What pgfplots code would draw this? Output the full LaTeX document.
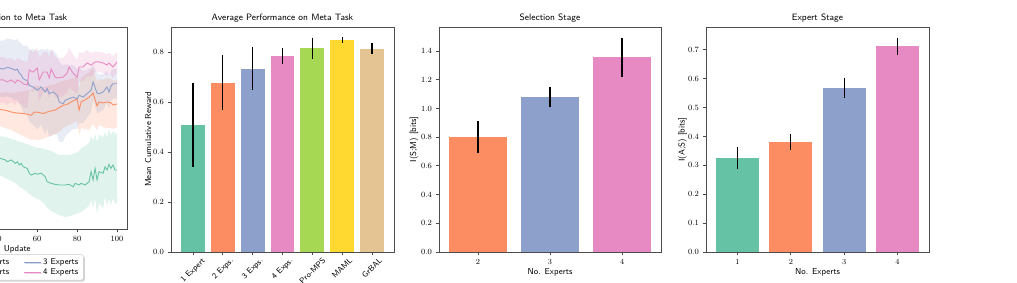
\documentclass[border=0pt]{standalone}
\usepackage{graphicx}
\usepackage{pgfplots}
\usepackage{pgfplotstable}
\pgfplotsset{compat=1.18}
\usepgfplotslibrary{fillbetween}
\usetikzlibrary{shadows}
\definecolor{cA}{HTML}{66C2A5}
\definecolor{cB}{HTML}{FC8D62}
\definecolor{cC}{HTML}{8DA0CB}
\definecolor{cD}{HTML}{E78AC3}
\definecolor{cE}{HTML}{A6D854}
\definecolor{cF}{HTML}{FFD92F}
\definecolor{cG}{HTML}{E5C494}
\definecolor{spine}{gray}{0.3}

\pgfplotstableread{
x m lo hi
38 0.356 0.277 0.465
41 0.351 0.267 0.460
44 0.342 0.252 0.455
45 0.333 0.248 0.453
47 0.342 0.238 0.446
49 0.325 0.228 0.441
50 0.333 0.218 0.436
51 0.317 0.208 0.432
52 0.325 0.203 0.431
53 0.308 0.198 0.426
55 0.300 0.183 0.421
56 0.276 0.173 0.416
57 0.267 0.168 0.411
59 0.276 0.153 0.406
60 0.271 0.149 0.401
62 0.276 0.139 0.400
64 0.259 0.119 0.396
65 0.234 0.104 0.391
67 0.226 0.089 0.386
69 0.221 0.079 0.376
71 0.218 0.069 0.366
74 0.218 0.059 0.366
76 0.221 0.064 0.366
78 0.209 0.069 0.371
79 0.226 0.074 0.375
81 0.218 0.079 0.386
82 0.226 0.084 0.400
84 0.218 0.099 0.411
86 0.234 0.114 0.426
87 0.284 0.144 0.460
88 0.243 0.104 0.436
89 0.300 0.153 0.470
90 0.243 0.074 0.431
91 0.284 0.129 0.465
93 0.276 0.099 0.455
94 0.308 0.163 0.480
95 0.292 0.114 0.455
96 0.320 0.149 0.493
97 0.300 0.119 0.465
98 0.317 0.153 0.485
99 0.292 0.124 0.470
100 0.292 0.129 0.475
}\tabA

\pgfplotstableread{
x m lo hi
38 0.594 0.515 0.673
41 0.592 0.510 0.673
44 0.588 0.500 0.678
47 0.579 0.490 0.673
50 0.574 0.475 0.678
53 0.572 0.460 0.683
55 0.568 0.450 0.688
57 0.563 0.441 0.688
58 0.574 0.446 0.698
59 0.579 0.441 0.708
61 0.577 0.441 0.708
63 0.571 0.446 0.703
65 0.579 0.455 0.708
67 0.584 0.460 0.713
69 0.589 0.470 0.718
71 0.601 0.480 0.728
73 0.612 0.500 0.733
75 0.617 0.510 0.738
77 0.629 0.520 0.743
79 0.639 0.530 0.752
80 0.644 0.535 0.757
81 0.589 0.465 0.698
82 0.629 0.500 0.748
84 0.639 0.495 0.762
86 0.653 0.490 0.777
88 0.673 0.520 0.797
90 0.609 0.490 0.728
91 0.629 0.515 0.743
93 0.624 0.505 0.738
95 0.629 0.500 0.748
97 0.624 0.500 0.743
98 0.614 0.495 0.733
100 0.619 0.505 0.738
}\tabB

\pgfplotstableread{
x m lo hi
38 0.797 0.658 0.936
41 0.795 0.656 0.934
43 0.792 0.653 0.931
45 0.800 0.656 0.944
47 0.795 0.651 0.939
49 0.786 0.637 0.935
50 0.792 0.643 0.941
51 0.772 0.619 0.925
52 0.762 0.604 0.920
53 0.744 0.581 0.907
54 0.738 0.570 0.906
55 0.736 0.563 0.909
56 0.711 0.533 0.889
58 0.703 0.515 0.891
60 0.687 0.494 0.880
62 0.703 0.515 0.891
64 0.678 0.470 0.886
65 0.695 0.497 0.893
66 0.670 0.457 0.883
68 0.678 0.470 0.886
70 0.663 0.465 0.861
71 0.629 0.431 0.827
73 0.620 0.432 0.808
74 0.637 0.459 0.815
76 0.645 0.477 0.813
78 0.653 0.495 0.811
80 0.645 0.496 0.794
81 0.662 0.523 0.801
83 0.653 0.524 0.782
85 0.670 0.551 0.789
87 0.687 0.578 0.796
88 0.728 0.639 0.817
90 0.673 0.574 0.772
91 0.670 0.576 0.764
93 0.678 0.589 0.767
95 0.703 0.624 0.782
96 0.678 0.594 0.762
97 0.708 0.634 0.782
98 0.719 0.645 0.793
100 0.719 0.645 0.793
}\tabC

\pgfplotstableread{
x m lo hi
38 0.738 0.624 0.852
41 0.738 0.624 0.852
43 0.738 0.624 0.852
45 0.728 0.614 0.842
47 0.738 0.629 0.847
49 0.723 0.614 0.832
50 0.738 0.629 0.847
52 0.728 0.619 0.837
53 0.718 0.604 0.832
55 0.713 0.599 0.827
56 0.787 0.688 0.886
58 0.777 0.678 0.876
60 0.797 0.698 0.896
61 0.738 0.629 0.847
63 0.777 0.678 0.876
65 0.777 0.678 0.876
66 0.748 0.644 0.852
67 0.792 0.693 0.891
69 0.752 0.653 0.851
70 0.748 0.649 0.847
73 0.752 0.658 0.846
75 0.772 0.673 0.871
76 0.802 0.703 0.901
78 0.772 0.683 0.861
80 0.752 0.668 0.836
81 0.802 0.728 0.876
83 0.802 0.733 0.871
85 0.822 0.758 0.886
87 0.812 0.753 0.871
89 0.827 0.777 0.877
91 0.827 0.777 0.877
93 0.822 0.772 0.872
95 0.812 0.758 0.866
96 0.822 0.772 0.872
98 0.802 0.748 0.856
100 0.827 0.777 0.877
}\tabD

\pgfplotsset{
  every axis title shift=0pt,
  base/.style={
    scale only axis, anchor=south west,
    axis line style={spine, line width=0.8pt},
    tick align=outside, tick pos=left, major tick length=3.5pt,
    tick style={spine, line width=0.8pt},
    tick label style={font=\fontsize{7.8}{9}\selectfont},
    label style={font=\sffamily\fontsize{8.6}{10}\selectfont},
    title style={font=\sffamily\fontsize{9.2}{11}\selectfont, at={(axis description cs:0.5,1)}, anchor=south, yshift=1.5pt},
  },
  bars/.style={
    base, ybar, bar width=0.8, bar shift=0pt, ymin=0, height=225pt,
    error bars/y dir=both, error bars/y explicit,
    error bars/error mark=none,
    error bars/error bar style={black, line width=1.2pt},
    yticklabel style={/pgf/number format/fixed, /pgf/number format/precision=1, /pgf/number format/fixed zerofill},
    xlabel style={at={(axis description cs:0.5,-0.089)}, anchor=center},
  },
}

\begin{document}
\begin{tikzpicture}[x=1pt,y=1pt]

% Panel 1
\begin{axis}[base, at={(-92.5pt,54pt)}, width=219.5pt, height=202pt,
  xmin=-5, xmax=105, ymin=0, ymax=1,
  xtick={0,20,40,60,80,100}, ytick={0,0.2,0.4,0.6,0.8,1.0},
  title={Adaptation to Meta Task},
  xlabel={Update},
  xlabel style={at={(axis description cs:0.5,-0.102)}, anchor=center},
  legend columns=2,
  legend cell align=left,
  legend style={at={(axis description cs:0.5,-0.126)}, anchor=north,
    font=\sffamily\fontsize{8.6}{10}\selectfont, draw=gray!40, fill=white,
    rounded corners=2pt, row sep=-1.5pt,
    drop shadow={opacity=0.35, shadow xshift=1.5pt, shadow yshift=-1.5pt},
    /tikz/every even column/.append style={column sep=12pt}},
]
\addplot[cA, line width=0.9pt, forget plot] table[x=x,y=m]{\tabA};
\addplot[name path=al, draw=none, forget plot] table[x=x,y=lo]{\tabA};
\addplot[name path=ah, draw=none, forget plot] table[x=x,y=hi]{\tabA};
\addplot[cA, fill opacity=0.2, draw=none, forget plot] fill between[of=al and ah];

\addplot[cB, line width=0.9pt, forget plot] table[x=x,y=m]{\tabB};
\addplot[name path=bl, draw=none, forget plot] table[x=x,y=lo]{\tabB};
\addplot[name path=bh, draw=none, forget plot] table[x=x,y=hi]{\tabB};
\addplot[cB, fill opacity=0.2, draw=none, forget plot] fill between[of=bl and bh];

\addplot[cC, line width=0.9pt, forget plot] table[x=x,y=m]{\tabC};
\addplot[name path=cl, draw=none, forget plot] table[x=x,y=lo]{\tabC};
\addplot[name path=ch, draw=none, forget plot] table[x=x,y=hi]{\tabC};
\addplot[cC, fill opacity=0.2, draw=none, forget plot] fill between[of=cl and ch];

\addplot[cD, line width=0.9pt, forget plot] table[x=x,y=m]{\tabD};
\addplot[name path=dl, draw=none, forget plot] table[x=x,y=lo]{\tabD};
\addplot[name path=dh, draw=none, forget plot] table[x=x,y=hi]{\tabD};
\addplot[cD, fill opacity=0.2, draw=none, forget plot] fill between[of=dl and dh];

\addlegendimage{cA, line width=0.9pt}\addlegendentry{1 Experts}
\addlegendimage{cC, line width=0.9pt}\addlegendentry{3 Experts}
\addlegendimage{cB, line width=0.9pt}\addlegendentry{2 Experts}
\addlegendimage{cD, line width=0.9pt}\addlegendentry{4 Experts}
\end{axis}

% Panel 2
\begin{axis}[bars, at={(171pt,31pt)}, width=223pt,
  xmin=-0.74, xmax=6.74, ymax=0.9,
  ytick={0,0.2,0.4,0.6,0.8},
  xtick={0,1,2,3,4,5,6},
  xticklabels={{\rotatebox{45}{1 Expert}},{\rotatebox{45}{2 Exps.}},{\rotatebox{45}{3 Exps.}},{\rotatebox{45}{4 Exps.}},{\rotatebox{45}{Pro-MPS}},{\rotatebox{45}{MAML}},{\rotatebox{45}{GrBAL}}},
  xticklabel style={anchor=north, inner sep=1.5pt, font=\sffamily\fontsize{8}{9}\selectfont},
  ylabel={Mean Cumulative Reward},
  ylabel style={at={(axis description cs:-0.103,0.5)}, anchor=center},
  title={Average Performance on Meta Task},
]
\addplot[fill=cA, draw=none] coordinates {(0,0.507) +- (0,0.168)};
\addplot[fill=cB, draw=none] coordinates {(1,0.677) +- (0,0.110)};
\addplot[fill=cC, draw=none] coordinates {(2,0.733) +- (0,0.086)};
\addplot[fill=cD, draw=none] coordinates {(3,0.785) +- (0,0.032)};
\addplot[fill=cE, draw=none] coordinates {(4,0.814) +- (0,0.043)};
\addplot[fill=cF, draw=none] coordinates {(5,0.847) +- (0,0.012)};
\addplot[fill=cG, draw=none] coordinates {(6,0.812) +- (0,0.022)};
\end{axis}

% Panel 3
\begin{axis}[bars, at={(439pt,31pt)}, width=222pt,
  xmin=-0.54, xmax=2.54, ymax=1.568,
  ytick={0,0.2,0.4,0.6,0.8,1.0,1.2,1.4},
  xtick={0,1,2}, xticklabels={2,3,4},
  xlabel={No. Experts},
  ylabel={I(S;M) [bits]},
  ylabel style={at={(axis description cs:-0.113,0.5)}, anchor=center},
  title={Selection Stage},
]
\addplot[fill=cB, draw=none] coordinates {(0,0.800) +- (0,0.110)};
\addplot[fill=cC, draw=none] coordinates {(1,1.080) +- (0,0.073)};
\addplot[fill=cD, draw=none] coordinates {(2,1.356) +- (0,0.135)};
\end{axis}

% Panel 4
\begin{axis}[bars, at={(706pt,31pt)}, width=223pt,
  xmin=-0.59, xmax=3.59, ymax=0.779,
  ytick={0,0.1,0.2,0.3,0.4,0.5,0.6,0.7},
  xtick={0,1,2,3}, xticklabels={1,2,3,4},
  xlabel={No. Experts},
  ylabel={I(A;S) [bits]},
  ylabel style={at={(axis description cs:-0.105,0.5)}, anchor=center},
  title={Expert Stage},
]
\addplot[fill=cA, draw=none] coordinates {(0,0.326) +- (0,0.038)};
\addplot[fill=cB, draw=none] coordinates {(1,0.381) +- (0,0.028)};
\addplot[fill=cC, draw=none] coordinates {(2,0.567) +- (0,0.034)};
\addplot[fill=cD, draw=none] coordinates {(3,0.712) +- (0,0.030)};
\end{axis}
\pgfresetboundingbox
\path[use as bounding box] (0,0) rectangle (1017,283);
\end{tikzpicture}
\end{document}
